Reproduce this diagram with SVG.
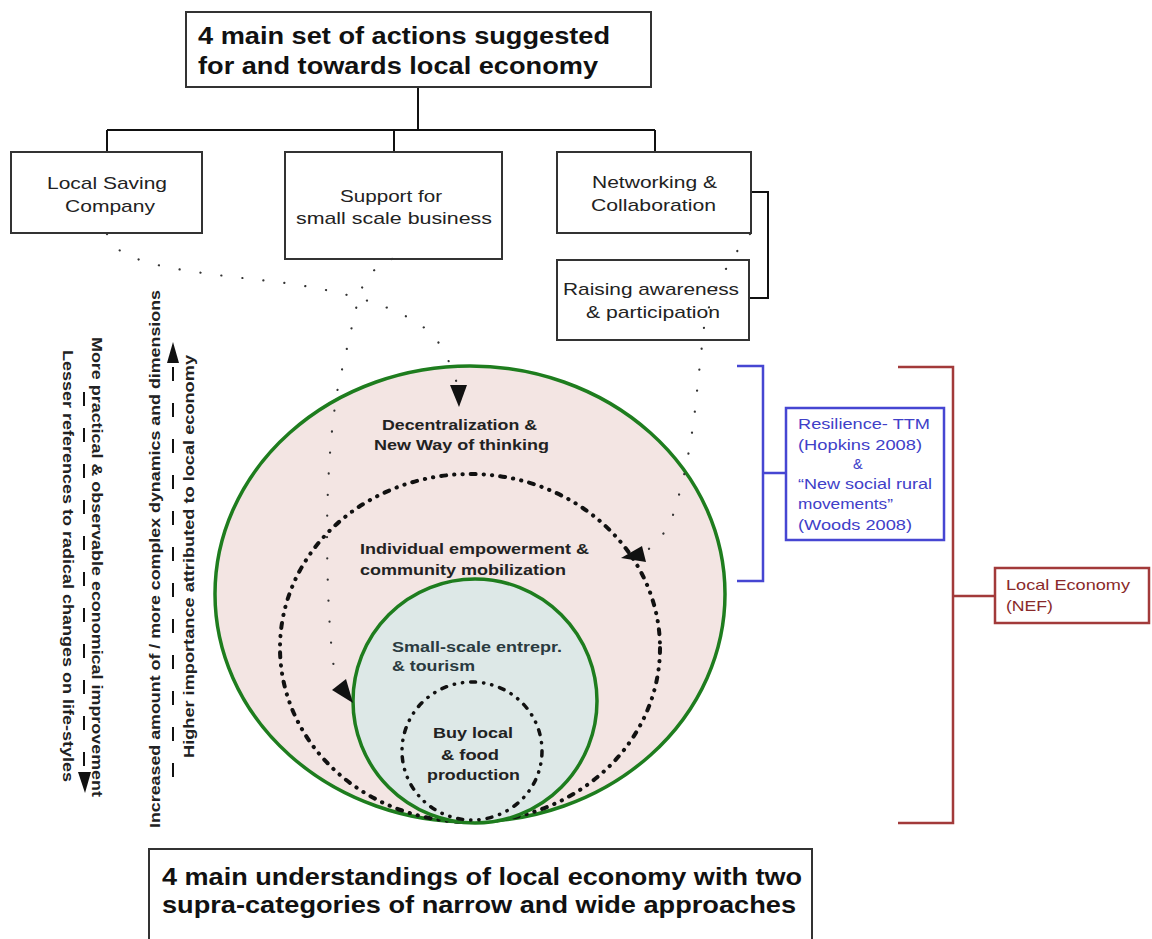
<svg xmlns="http://www.w3.org/2000/svg" width="1152" height="939" viewBox="0 0 1152 939">
<defs>
<style>
text{font-family:"Liberation Sans",Arial,sans-serif;}
.box{fill:#fff;stroke:#333;stroke-width:2;}
.conn{fill:none;stroke:#111;stroke-width:2;}
.dots{fill:none;stroke:#333;stroke-width:2.2;stroke-linecap:round;stroke-dasharray:0.1 21;}
.ring{fill:none;stroke:#111;stroke-width:4;stroke-linecap:round;stroke-dasharray:5 8 0.3 8 0.3 8;}
.title{font-size:23px;font-weight:bold;fill:#111;}
.lbl{font-size:17px;fill:#222;}
.clbl{font-size:14.5px;font-weight:bold;fill:#222;}
.side{font-size:14px;font-weight:bold;fill:#222;}
.dash{stroke:#111;stroke-width:2;stroke-dasharray:14 22;}
.blue{fill:none;stroke:#4646d2;stroke-width:2.5;}
.btxt{font-size:14.5px;fill:#4040c8;}
.red{fill:none;stroke:#a23a3a;stroke-width:2.5;}
.rtxt{font-size:14.5px;fill:#8a2a2a;}
.head{fill:#111;}
</style>
</defs>
<rect width="1152" height="939" fill="#fff"/>

<g id="tree-connectors">
<path class="conn" d="M418 87 V130 M107 130 H655 M107 130 V152 M394 130 V152 M655 130 V152"/>
<path class="conn" d="M751 192 H768 V298 H749"/>
</g>

<g id="n-top">
<rect class="box" x="186" y="12" width="465" height="75"/>
<text class="title" x="198" y="44" textLength="412" lengthAdjust="spacingAndGlyphs">4 main set of actions suggested</text>
<text class="title" x="198" y="74" textLength="400" lengthAdjust="spacingAndGlyphs">for and towards local economy</text>
</g>

<g id="n-saving">
<rect class="box" x="11" y="152" width="191" height="81"/>
<text class="lbl" x="47" y="189" textLength="120" lengthAdjust="spacingAndGlyphs">Local Saving</text>
<text class="lbl" x="65" y="212" textLength="90" lengthAdjust="spacingAndGlyphs">Company</text>
</g>

<g id="n-support">
<rect class="box" x="285" y="152" width="217" height="107"/>
<text class="lbl" x="340" y="202" textLength="102" lengthAdjust="spacingAndGlyphs">Support for</text>
<text class="lbl" x="296" y="224" textLength="196" lengthAdjust="spacingAndGlyphs">small scale business</text>
</g>

<g id="n-network">
<rect class="box" x="557" y="152" width="194" height="81"/>
<text class="lbl" x="592" y="188" textLength="125" lengthAdjust="spacingAndGlyphs">Networking &amp;</text>
<text class="lbl" x="591" y="211" textLength="125" lengthAdjust="spacingAndGlyphs">Collaboration</text>
</g>

<g id="n-raising">
<rect class="box" x="557" y="260" width="192" height="80"/>
<text class="lbl" x="563" y="295" textLength="176" lengthAdjust="spacingAndGlyphs">Raising awareness</text>
<text class="lbl" x="586" y="318" textLength="134" lengthAdjust="spacingAndGlyphs">&amp; participation</text>
</g>

<g id="n-circles">
<ellipse cx="470" cy="594" rx="255" ry="228" fill="#f3e5e3" stroke="#1e7d1e" stroke-width="3.5"/>
<ellipse cx="470" cy="648" rx="190" ry="174" class="ring"/>
<circle cx="475" cy="701" r="122" fill="#dde8e7" stroke="#1e7d1e" stroke-width="3.5"/>
<ellipse cx="472" cy="751" rx="70" ry="69" class="ring" style="stroke-width:3.5"/>
<text class="clbl" x="382" y="430" textLength="155" lengthAdjust="spacingAndGlyphs">Decentralization &amp;</text>
<text class="clbl" x="374" y="450" textLength="175" lengthAdjust="spacingAndGlyphs">New Way of thinking</text>
<text class="clbl" x="360" y="554" textLength="229" lengthAdjust="spacingAndGlyphs">Individual empowerment &amp;</text>
<text class="clbl" x="360" y="575" textLength="206" lengthAdjust="spacingAndGlyphs">community mobilization</text>
<text class="clbl" x="392" y="652" textLength="170" lengthAdjust="spacingAndGlyphs" style="fill:#2a3a40">Small-scale entrepr.</text>
<text class="clbl" x="392" y="671" textLength="83" lengthAdjust="spacingAndGlyphs" style="fill:#2a3a40">&amp; tourism</text>
<text class="clbl" x="433" y="738" textLength="80" lengthAdjust="spacingAndGlyphs">Buy local</text>
<text class="clbl" x="441" y="760" textLength="58" lengthAdjust="spacingAndGlyphs">&amp; food</text>
<text class="clbl" x="427" y="780" textLength="93" lengthAdjust="spacingAndGlyphs">production</text>
</g>

<g id="dotted-connectors">
<path class="dots" d="M107 234 C115 262 170 270 260 280 C340 288 420 310 440 345 Q452 365 457 384"/>
<path class="dots" d="M392 259 Q365 270 358 300 L338 387 Q327 450 327 540 Q328 640 336 680"/>
<path class="dots" d="M750 234 Q705 290 702 345 L695 410 Q688 470 672 518 Q660 545 640 554"/>
<polygon class="head" points="450,385 467,385 459,407"/>
<polygon class="head" points="332,690 346,679 353,703"/>
<polygon class="head" points="621,558 642,546 646,562"/>
</g>

<g id="axis-left">
<line class="dash" x1="84" y1="392" x2="84" y2="772"/>
<polygon class="head" points="78,772 91,772 85,793"/>
<line class="dash" x1="173" y1="777" x2="173" y2="363"/>
<polygon class="head" points="167,363 179,363 173,342"/>
<text class="side" transform="translate(92,337) rotate(90)" textLength="460" lengthAdjust="spacingAndGlyphs">More practical &amp; observable economical improvement</text>
<text class="side" transform="translate(63,350) rotate(90)" textLength="432" lengthAdjust="spacingAndGlyphs">Lesser references to radical changes on life-styles</text>
<text class="side" transform="translate(160,828) rotate(-90)" textLength="538" lengthAdjust="spacingAndGlyphs">Increased amount of / more complex dynamics and dimensions</text>
<text class="side" transform="translate(194,758) rotate(-90)" textLength="403" lengthAdjust="spacingAndGlyphs">Higher importance attributed to local economy</text>
</g>

<g id="n-resilience">
<path class="blue" d="M737 366 H763 V581 H737 M763 473 H786"/>
<rect x="786" y="408" width="158" height="132" fill="#fff" stroke="#4646d2" stroke-width="2.5"/>
<text class="btxt" x="798" y="429" textLength="132" lengthAdjust="spacingAndGlyphs">Resilience- TTM</text>
<text class="btxt" x="798" y="450" textLength="124" lengthAdjust="spacingAndGlyphs">(Hopkins 2008)</text>
<text class="btxt" x="853" y="469">&amp;</text>
<text class="btxt" x="798" y="489" textLength="134" lengthAdjust="spacingAndGlyphs">“New social rural</text>
<text class="btxt" x="798" y="509" textLength="95" lengthAdjust="spacingAndGlyphs">movements”</text>
<text class="btxt" x="798" y="530" textLength="114" lengthAdjust="spacingAndGlyphs">(Woods 2008)</text>
</g>

<g id="n-nef">
<path class="red" d="M898 367 H953 V823 H898 M953 596 H995"/>
<rect x="995" y="568" width="154" height="55" fill="#fff" stroke="#a23a3a" stroke-width="2.5"/>
<text class="rtxt" x="1006" y="590" textLength="124" lengthAdjust="spacingAndGlyphs">Local Economy</text>
<text class="rtxt" x="1006" y="611" textLength="47" lengthAdjust="spacingAndGlyphs">(NEF)</text>
</g>

<g id="n-bottom">
<rect class="box" x="149" y="849" width="663" height="100"/>
<text class="title" x="162" y="885" textLength="640" lengthAdjust="spacingAndGlyphs" style="font-size:24px">4 main understandings of local economy with two</text>
<text class="title" x="162" y="913" textLength="634" lengthAdjust="spacingAndGlyphs" style="font-size:24px">supra-categories of narrow and wide approaches</text>
</g>
</svg>
